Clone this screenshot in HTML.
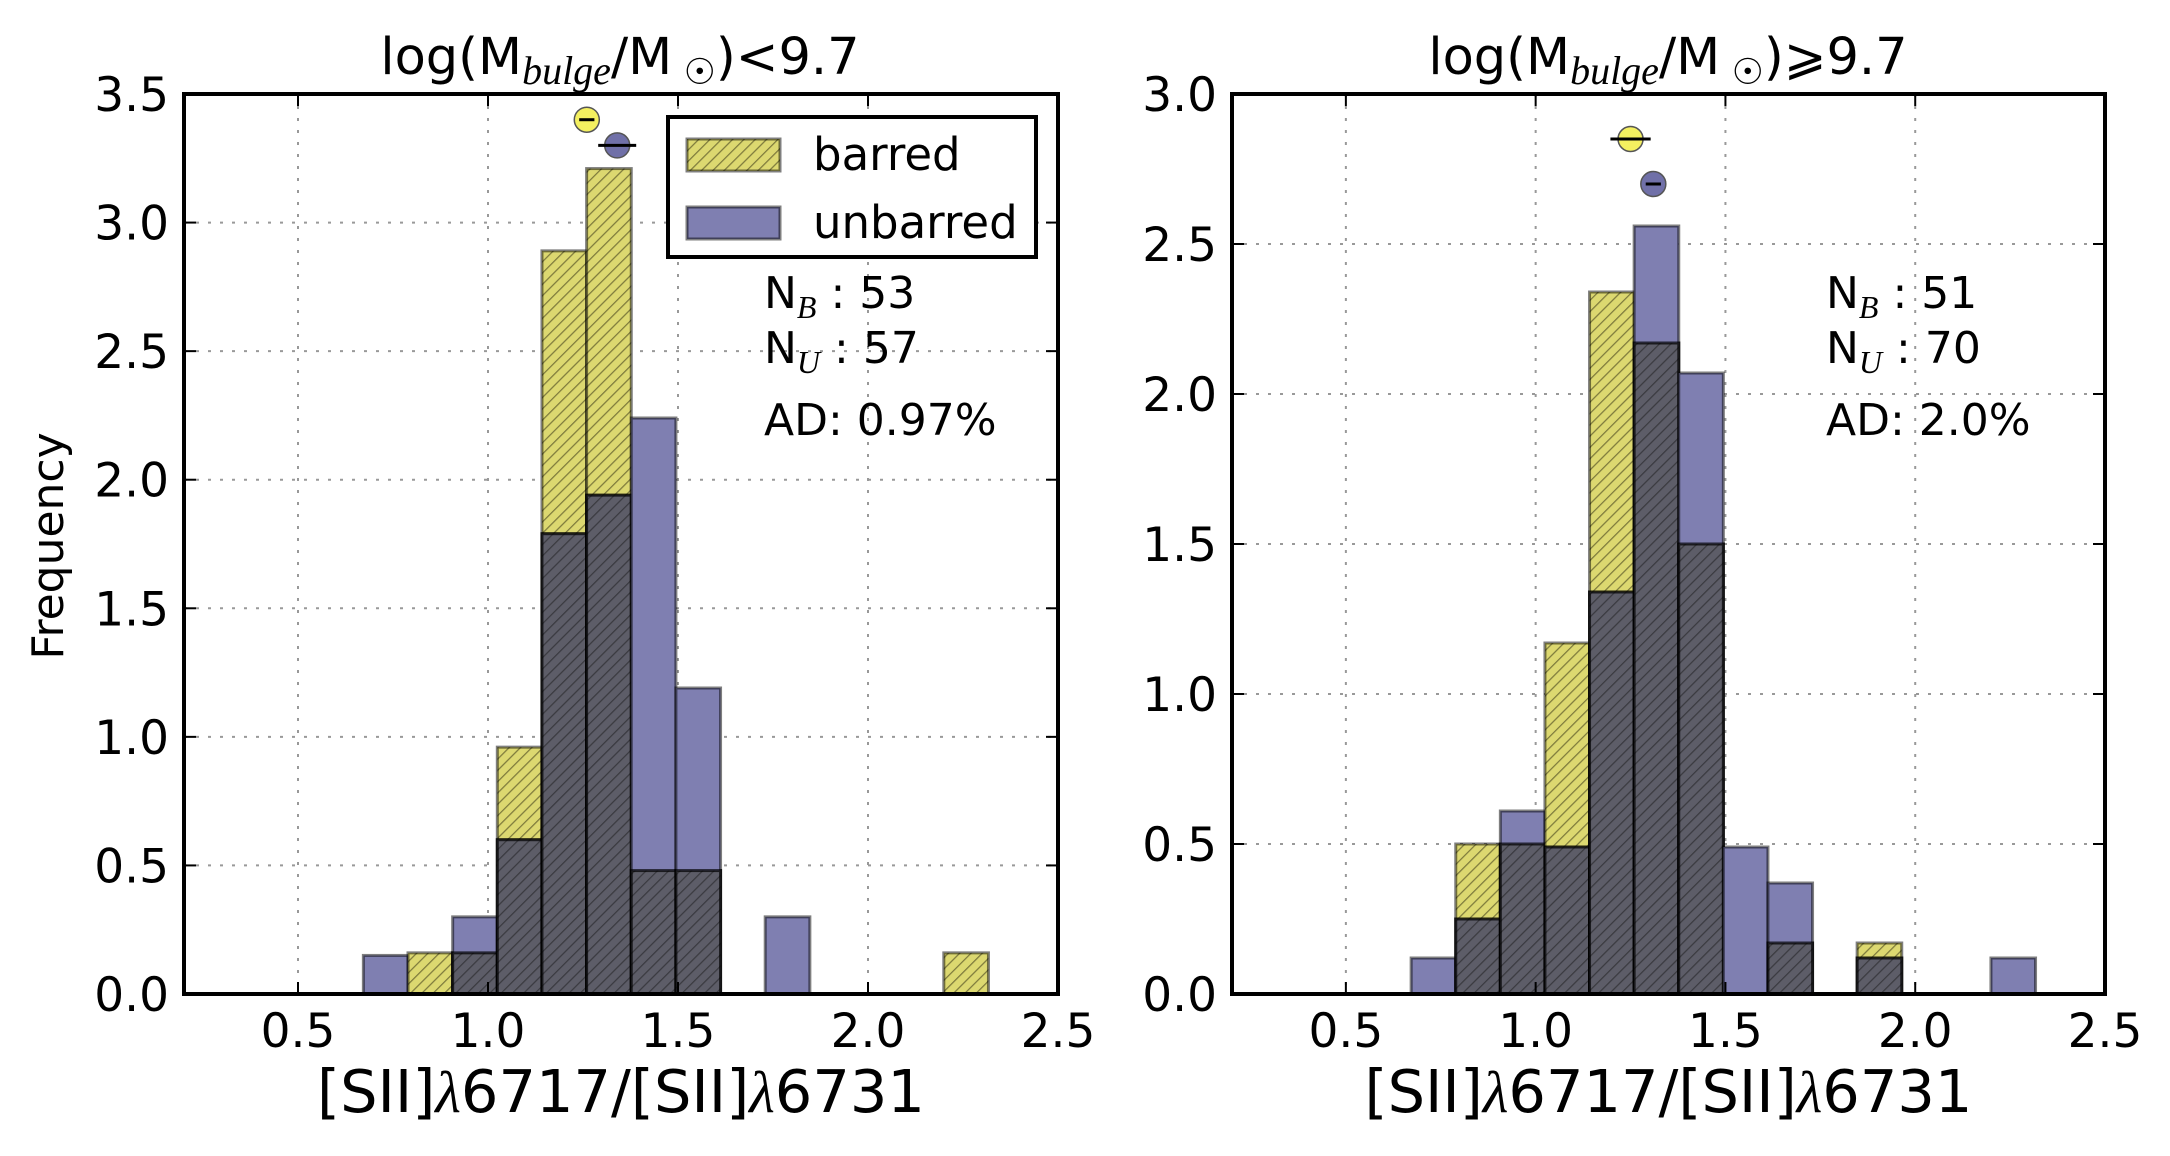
<!DOCTYPE html>
<html><head><meta charset="utf-8"><style>
html,body{margin:0;padding:0;background:#fff;}
svg{display:block;font-family:"DejaVu Sans","Liberation Sans",sans-serif;}
</style></head><body>
<svg id="chart" width="2170" height="1156" viewBox="0 0 2170 1156" xmlns="http://www.w3.org/2000/svg">
<defs>
<pattern id="hatchY" patternUnits="userSpaceOnUse" width="8" height="8" patternTransform="rotate(45)">
<rect width="8" height="8" fill="#dcd870"/><line x1="0" y1="0" x2="0" y2="8" stroke="#7d7a3c" stroke-width="2.5"/></pattern>
<pattern id="hatchD" patternUnits="userSpaceOnUse" width="8" height="8" patternTransform="rotate(45)">
<rect width="8" height="8" fill="#5d5d68"/><line x1="0" y1="0" x2="0" y2="8" stroke="#3a3a40" stroke-width="2.5"/></pattern>
</defs>
</svg>
<script>
const binStart = 0.672, binWidth = 0.1175;
const leftBarred   = [0,0.16,0.16,0.96,2.89,3.21,0.48,0.48,0,0,0,0,0,0.16];
const leftUnbarred = [0.15,0,0.30,0.60,1.79,1.94,2.24,1.19,0,0.30,0,0,0,0];
const rightBarred   = [0,0.50,0.50,1.17,2.34,2.17,1.50,0,0.17,0,0.17,0,0,0];
const rightUnbarred = [0.12,0.25,0.61,0.49,1.34,2.56,2.07,0.49,0.37,0,0.12,0,0,0.12];
const leftMeans  = [1.26,3.40,0.02, 1.34,3.30,0.05];
const rightMeans = [1.25,2.85,0.053, 1.31,2.70,0.02];
const xTicks = [0.5,1.0,1.5,2.0,2.5];
const leftYTicks = [0,0.5,1,1.5,2,2.5,3,3.5];
const rightYTicks = [0,0.5,1,1.5,2,2.5,3];
const leftStats = ["53","57","AD: 0.97%"];
const rightStats = ["51","70","AD: 2.0%"];

const svg = document.getElementById('chart');
const NS = 'http://www.w3.org/2000/svg';
function mk(tag, attrs, parent){const e=document.createElementNS(NS,tag);for(const k in attrs)e.setAttribute(k,attrs[k]);(parent||svg).appendChild(e);return e;}

function panel(cfg){
  const {x0,x1,y0,y1,ymax,barred,unbarred,means,yTicks,stats,key,titleX,textX,rel} = cfg;
  const g = mk('g',{});
  
  
  const sx = v => x0 + (v-0.2)/(2.3)*(x1-x0);
  const sy = v => y1 - v/ymax*(y1-y0);
  xTicks.forEach(t=>{ if(t<2.5){const l=mk('line',{x1:sx(t),x2:sx(t),y1:y0,y2:y1,stroke:'#999','stroke-width':2,'stroke-dasharray':'3,9'},g);
    
    }});
  yTicks.forEach(t=>{ if(t>0&&t<ymax){const l=mk('line',{x1:x0,x2:x1,y1:sy(t),y2:sy(t),stroke:'#999','stroke-width':2,'stroke-dasharray':'3,9'},g);
    
    }});
  for(let i=0;i<barred.length;i++){
    const bx=sx(binStart+i*binWidth), bw=sx(binStart+(i+1)*binWidth)-bx;
    const b=barred[i], u=unbarred[i];
    if(b>0){const r=mk('rect',{x:bx,y:sy(b),width:bw,height:sy(0)-sy(b),fill:'url(#hatchY)',stroke:'rgba(0,0,0,0.5)','stroke-width':3},g);
      
      }
    if(u>0){const r=mk('rect',{x:bx,y:sy(u),width:bw,height:sy(0)-sy(u),fill:'#7f7fb1',stroke:'rgba(0,0,0,0.5)','stroke-width':3},g);
      
      }
    const m=Math.min(b,u);
    if(m>0){const r=mk('rect',{x:bx,y:sy(m),width:bw,height:sy(0)-sy(m),fill:'url(#hatchD)',stroke:'rgba(0,0,0,0.7)','stroke-width':3},g);
      
      }
  }
  [[0,'#f4f060','barred-mean'],[3,'#7070a8','unbarred-mean']].forEach(([o,c,n])=>{
    const cx=sx(means[o]), cy=sy(means[o+1]);
    const c1=mk('circle',{cx:cx,cy:cy,r:12.5,fill:c,stroke:'#555','stroke-width':1.5},g);
    
    
    const e=mk('line',{x1:sx(means[o]-means[o+2]),x2:sx(means[o]+means[o+2]),y1:cy,y2:cy,stroke:'#000','stroke-width':3},g);
    
    
  });
  const f=mk('rect',{x:x0,y:y0,width:x1-x0,height:y1-y0,fill:'none',stroke:'#000','stroke-width':4},g);
  
  
  xTicks.forEach(t=>{
    mk('line',{x1:sx(t),x2:sx(t),y1:y1,y2:y1-12,stroke:'#000','stroke-width':2},g);
    mk('line',{x1:sx(t),x2:sx(t),y1:y0,y2:y0+12,stroke:'#000','stroke-width':2},g);
    const tl=mk('text',{x:sx(t),y:1047,'font-size':47,'text-anchor':'middle'},g); tl.textContent=t.toFixed(1);
    
    
  });
  yTicks.forEach(t=>{
    mk('line',{x1:x0,x2:x0+12,y1:sy(t),y2:sy(t),stroke:'#000','stroke-width':2},g);
    mk('line',{x1:x1,x2:x1-12,y1:sy(t),y2:sy(t),stroke:'#000','stroke-width':2},g);
    const tl=mk('text',{x:x0-15,y:sy(t)+17,'font-size':47,'text-anchor':'end'},g); tl.textContent=t.toFixed(1);
    
    
  });
  const xl=mk('text',{x:(x0+x1)/2,y:1112,'font-size':59,'text-anchor':'middle'},g);
  xl.innerHTML='[SII]<tspan font-family="Liberation Serif,serif" font-style="italic">λ</tspan>6717/[SII]<tspan font-family="Liberation Serif,serif" font-style="italic">λ</tspan>6731';
  
  
  const ti=mk('text',{x:titleX,y:74,'font-size':51,'text-anchor':'middle'},g);
  ti.innerHTML='log(M<tspan font-family="Liberation Serif,serif" font-style="italic" font-size="40" dy="10">bulge</tspan><tspan dy="-10">/M</tspan><tspan font-size="36" dy="10"> ☉</tspan><tspan dy="-10">)'+rel+'9.7</tspan>';
  
  
  const s1=mk('text',{x:textX,y:308,'font-size':44},g);
  s1.innerHTML='N<tspan font-family="Liberation Serif,serif" font-style="italic" font-size="32" dy="10">B</tspan><tspan dy="-10"> : '+stats[0]+'</tspan>';
  
  
  const s2=mk('text',{x:textX,y:363,'font-size':44},g);
  s2.innerHTML='N<tspan font-family="Liberation Serif,serif" font-style="italic" font-size="32" dy="10">U</tspan><tspan dy="-10"> : '+stats[1]+'</tspan>';
  
  
  const s3=mk('text',{x:textX,y:435,'font-size':44},g); s3.textContent=stats[2];
  
  
}

panel({x0:184,x1:1058,y0:94,y1:994,ymax:3.5,barred:leftBarred,unbarred:leftUnbarred,means:leftMeans,yTicks:leftYTicks,stats:leftStats,key:'left',titleX:620,textX:764,rel:'<'});
panel({x0:1232,x1:2105,y0:94,y1:994,ymax:3.0,barred:rightBarred,unbarred:rightUnbarred,means:rightMeans,yTicks:rightYTicks,stats:rightStats,key:'right',titleX:1668,textX:1826,rel:'⩾'});

const yl=mk('text',{x:0,y:0,'font-size':44,'text-anchor':'middle',transform:'translate(63,546) rotate(-90)'});
yl.textContent='Frequency';



const lg=mk('g',{});


mk('rect',{x:668,y:117,width:368,height:140,fill:'#fff',stroke:'#000','stroke-width':4},lg);
const p1=mk('rect',{x:687,y:139,width:93,height:32,fill:'url(#hatchY)',stroke:'rgba(0,0,0,0.5)','stroke-width':3},lg);


const p2=mk('rect',{x:687,y:207,width:93,height:32,fill:'#7f7fb1',stroke:'rgba(0,0,0,0.5)','stroke-width':3},lg);


const t1=mk('text',{x:813,y:170,'font-size':45},lg); t1.textContent='barred';


const t2=mk('text',{x:813,y:238,'font-size':45},lg); t2.textContent='unbarred';


</script>
</body></html>
